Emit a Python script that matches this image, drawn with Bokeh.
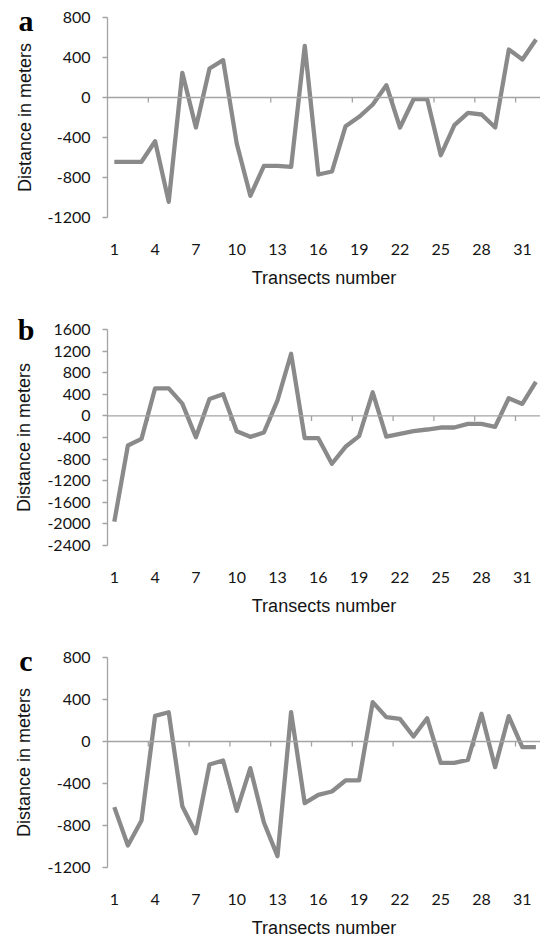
from bokeh.plotting import figure
from bokeh.layouts import column
from bokeh.models import (ColumnDataSource, FixedTicker, Span, Range1d,
                          LinearAxis)
from bokeh.embed import file_html
from bokeh.resources import INLINE

# ---------------- data ----------------
transects = list(range(1, 33))

dist_a = [-643, -643, -643, -437, -1043, 247, -300, 290, 373, -460,
          -983, -683, -683, -693, 517, -770, -740, -287, -193, -70,
          123, -300, -17, -17, -577, -277, -153, -170, -300, 480,
          380, 580]

dist_b = [-1960, -548, -425, 511, 511, 228, -394, 314, 400, -283,
          -388, -308, 289, 1151, -412, -412, -886, -572, -375, 437,
          -382, -332, -283, -252, -215, -215, -148, -148, -203, 326,
          222, 630]

dist_c = [-625, -991, -752, 244, 279, -616, -873, -219, -181, -660,
          -254, -771, -1092, 279, -587, -508, -476, -371, -371, 375,
          232, 216, 48, 222, -203, -203, -175, 264, -244, 241,
          -54, -54]

x_tick_values = [1, 4, 7, 10, 13, 16, 19, 22, 25, 28, 31]
x_tick_labels = ["1", "4", "7", "10", "13", "16", "19", "22", "25", "28", "31"]
category_marks = [3.5, 6.5, 9.5, 12.5, 15.5, 18.5, 21.5, 24.5, 27.5, 30.5]

y_ticks_a = [-1200, -800, -400, 0, 400, 800]
y_ticks_b = [-2400, -2000, -1600, -1200, -800, -400, 0, 400, 800, 1200, 1600]
y_ticks_c = [-1200, -800, -400, 0, 400, 800]

panel_letters = ["a", "b", "c"]
x_title = "Transects number"
y_title = "Distance in meters"

LINE_COLOR = "#8a8a8a"
AXIS_COLOR = "#a3a3a3"
TEXT_COLOR = "#141414"
FIG_W = 540


def make_panel(letter, values, yticks, height, b_top, b_bottom, b_left,
               px_per_cat, lbl_standoff, title_standoff, ytitle_standoff,
               letter_px_below_top, letter_standoff):
    ymin, ymax = yticks[0], yticks[-1]
    x_end = 0.5 + (FIG_W - b_left) / px_per_cat
    p = figure(width=FIG_W, height=height, output_backend="svg",
               toolbar_location=None, x_range=Range1d(0.5, x_end),
               y_range=Range1d(ymin, ymax),
               min_border_left=b_left, min_border_right=0,
               min_border_top=b_top, min_border_bottom=b_bottom)
    p.outline_line_color = None
    p.xgrid.visible = False
    p.ygrid.visible = False
    p.background_fill_color = "white"
    p.border_fill_color = "white"

    frame_h = height - b_top - b_bottom
    units_per_px = (ymax - ymin) / frame_h
    tick_len = 5 * units_per_px

    # horizontal axis line at zero with category tick marks
    p.add_layout(Span(location=0, dimension="width", line_color=AXIS_COLOR,
                      line_width=1.3))
    p.segment(x0=category_marks, y0=[0] * len(category_marks),
              x1=category_marks, y1=[-tick_len] * len(category_marks),
              line_color=AXIS_COLOR, line_width=1.3)

    src = ColumnDataSource(dict(x=transects, y=values))
    p.line("x", "y", source=src, line_color=LINE_COLOR, line_width=4.3,
           line_join="round")

    # x axis: labels only, at bottom
    xa = p.xaxis[0]
    xa.ticker = FixedTicker(ticks=x_tick_values)
    xa.major_label_overrides = {v: s for v, s in zip(x_tick_values, x_tick_labels)}
    xa.axis_line_color = None
    xa.major_tick_line_color = None
    xa.minor_tick_line_color = None
    xa.major_tick_out = 0
    xa.major_tick_in = 0
    xa.major_label_standoff = lbl_standoff
    xa.major_label_text_font = "Lato"
    xa.major_label_text_font_size = "16px"
    xa.major_label_text_color = TEXT_COLOR
    xa.axis_label = x_title
    xa.axis_label_text_font = "Liberation Sans"
    xa.axis_label_text_font_size = "18px"
    xa.axis_label_text_font_style = "normal"
    xa.axis_label_text_color = TEXT_COLOR
    xa.axis_label_standoff = title_standoff

    ya = p.yaxis[0]
    ya.ticker = FixedTicker(ticks=yticks)
    ya.major_label_overrides = {v: str(v) for v in yticks}
    ya.axis_line_color = AXIS_COLOR
    ya.axis_line_width = 1.3
    ya.major_tick_line_color = AXIS_COLOR
    ya.major_tick_line_width = 1.3
    ya.major_tick_out = 5
    ya.major_tick_in = 0
    ya.minor_tick_line_color = None
    ya.major_label_standoff = 12
    ya.major_label_text_font = "Lato"
    ya.major_label_text_font_size = "16px"
    ya.major_label_text_color = TEXT_COLOR
    ya.axis_label = y_title
    ya.axis_label_text_font = "Liberation Sans"
    ya.axis_label_text_font_size = "18px"
    ya.axis_label_text_font_style = "normal"
    ya.axis_label_text_color = TEXT_COLOR
    ya.axis_label_standoff = ytitle_standoff

    # panel letter: a single-label axis placed in the left border
    letter_val = int(round(ymax - letter_px_below_top * units_per_px))
    la = LinearAxis(ticker=FixedTicker(ticks=[letter_val]),
                    major_label_overrides={letter_val: letter},
                    axis_line_color=None, major_tick_line_color=None,
                    minor_tick_line_color=None, major_tick_out=0,
                    major_tick_in=0, major_label_standoff=letter_standoff,
                    major_label_text_font="Liberation Serif",
                    major_label_text_font_style="bold",
                    major_label_text_font_size="30px",
                    major_label_text_color="black")
    p.add_layout(la, "left")
    return p


pa = make_panel(panel_letters[0], dist_a, y_ticks_a, height=300, b_top=17,
                b_bottom=83, b_left=105, px_per_cat=13.667, lbl_standoff=26,
                title_standoff=10, ytitle_standoff=9,
                letter_px_below_top=3, letter_standoff=-21)
pb = make_panel(panel_letters[1], dist_b, y_ticks_b, height=330, b_top=29,
                b_bottom=85, b_left=107, px_per_cat=13.6, lbl_standoff=26,
                title_standoff=10, ytitle_standoff=10,
                letter_px_below_top=0.4, letter_standoff=-23)
pc = make_panel(panel_letters[2], dist_c, y_ticks_c, height=311, b_top=27,
                b_bottom=74, b_left=107, px_per_cat=13.6, lbl_standoff=26,
                title_standoff=10, ytitle_standoff=10,
                letter_px_below_top=2.9, letter_standoff=-21)

layout = column(pa, pb, pc, spacing=0)
open("out.html", "w").write(file_html(layout, INLINE))
